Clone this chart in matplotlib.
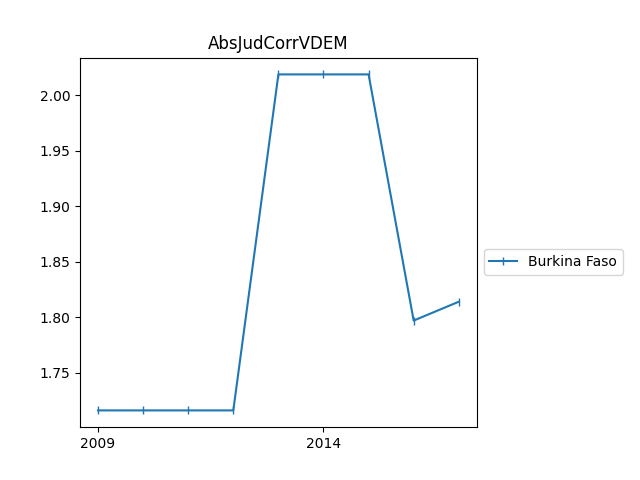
import matplotlib
matplotlib.use("Agg")
import matplotlib.pyplot as plt

years = [2009, 2010, 2011, 2012, 2013, 2014, 2015, 2016, 2017]
values = [1.716, 1.716, 1.716, 1.716, 2.019, 2.019, 2.019, 1.797, 1.814]
country = "Burkina Faso"

fig = plt.figure(figsize=(6.4, 4.8), dpi=100)
ax = fig.add_axes([0.125, 0.11, 0.62, 0.77])
ax.plot(years, values, marker="|", label=country)
ax.set_title("AbsJudCorrVDEM")
ax.set_xticks([2009, 2014])
ax.legend(loc="center left", bbox_to_anchor=(1, 0.447))
fig.savefig("out.png")
